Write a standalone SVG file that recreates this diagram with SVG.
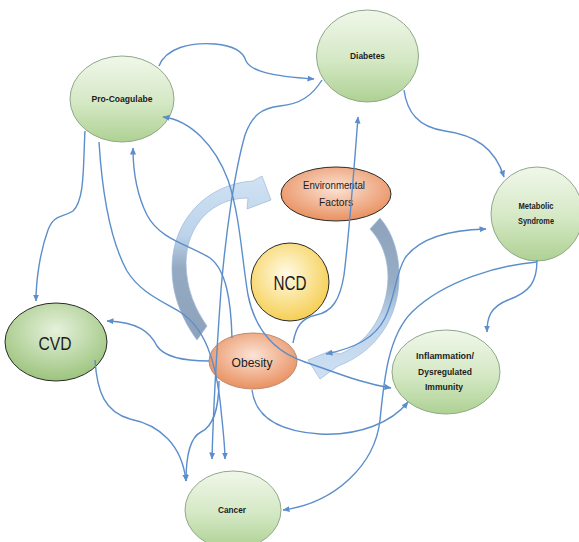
<svg xmlns="http://www.w3.org/2000/svg" width="579" height="542" viewBox="0 0 579 542">
<defs>
<style>
.green{stroke:#8fa88a;stroke-width:1}
.lbl{font-family:"Liberation Sans Narrow","Liberation Sans",Arial,sans-serif;font-weight:bold;fill:#1c1c1c;text-anchor:middle}
.big{font-family:"Liberation Sans Narrow","Liberation Sans",Arial,sans-serif;fill:#1c1c1c;text-anchor:middle}
.con{fill:none;stroke:#5b8ecb;stroke-width:1.4}
</style>
<linearGradient id="gG" x1="0" y1="0" x2="0" y2="1">
<stop offset="0" stop-color="#f1f7ea"/><stop offset="0.55" stop-color="#d4e8c4"/><stop offset="1" stop-color="#aed193"/>
</linearGradient>
<radialGradient id="gCVD" cx="0.5" cy="0.35" r="0.65">
<stop offset="0" stop-color="#e6f1dc"/><stop offset="1" stop-color="#9cc47d"/>
</radialGradient>
<radialGradient id="gO" cx="0.5" cy="0.4" r="0.6">
<stop offset="0" stop-color="#fbe3d6"/><stop offset="1" stop-color="#e9905f"/>
</radialGradient>
<radialGradient id="gY" cx="0.45" cy="0.4" r="0.6">
<stop offset="0" stop-color="#fffbe6"/><stop offset="1" stop-color="#f6cf55"/>
</radialGradient>
<linearGradient id="gA" gradientUnits="userSpaceOnUse" x1="0" y1="180" x2="0" y2="340">
<stop offset="0" stop-color="#cfe1f3"/><stop offset="0.35" stop-color="#bcd3ea"/><stop offset="0.55" stop-color="#94aac2"/><stop offset="1" stop-color="#8ea3bb"/>
</linearGradient>
<linearGradient id="gB" gradientUnits="userSpaceOnUse" x1="0" y1="218" x2="0" y2="380">
<stop offset="0" stop-color="#8ea3bb"/><stop offset="0.4" stop-color="#97adc5"/><stop offset="0.62" stop-color="#bcd3ea"/><stop offset="1" stop-color="#cfe1f3"/>
</linearGradient>
<marker id="ah" markerUnits="userSpaceOnUse" markerWidth="8" markerHeight="8" refX="6.5" refY="3" orient="auto-start-reverse">
<path d="M0,0 L7,3 L0,6 Z" fill="#5b8ecb"/>
</marker>
</defs>
<rect width="579" height="542" fill="#ffffff"/>

<g id="big-arrows">
<path id="arrow-left" d="M197,340 C184,322 172,298 172,268 C172,222 205,184 253,181 L262,176 L271,200 L247,209 L248,198 C212,198 187,225 186,262 C186,290 196,310 207,326 Z" fill="url(#gA)" stroke="#9db8d8" stroke-width="0.7"/>
<path id="arrow-right" d="M380,218 C393,233 400,255 399,280 C398,318 376,352 338,366 L320,379 L308,360 L330,351 L340,354 C370,342 387,312 388,278 C388,258 382,242 370,229 Z" fill="url(#gB)" stroke="#9db8d8" stroke-width="0.7"/>
</g>

<g id="node-procoagulabe">
<ellipse cx="122" cy="99" rx="52" ry="43" fill="url(#gG)" class="green"/>
<text class="lbl" x="122" y="101.5" font-size="9.5" textLength="61" lengthAdjust="spacingAndGlyphs">Pro-Coagulabe</text>
</g>
<g id="node-diabetes">
<ellipse cx="367.5" cy="56" rx="51" ry="46" fill="url(#gG)" class="green"/>
<text class="lbl" x="367.5" y="58.5" font-size="9.5" textLength="35" lengthAdjust="spacingAndGlyphs">Diabetes</text>
</g>
<g id="node-metabolic">
<ellipse cx="537" cy="214" rx="46" ry="47" fill="url(#gG)" class="green"/>
<text class="lbl" x="536" y="209" font-size="9.5" textLength="35" lengthAdjust="spacingAndGlyphs">Metabolic</text>
<text class="lbl" x="536" y="224" font-size="9.5" textLength="36" lengthAdjust="spacingAndGlyphs">Syndrome</text>
</g>
<g id="node-cvd">
<ellipse cx="56" cy="342" rx="51" ry="39" fill="url(#gCVD)" stroke="#2a2a2a" stroke-width="1"/>
<text class="big" x="55" y="350" font-size="19" textLength="33" lengthAdjust="spacingAndGlyphs">CVD</text>
</g>
<g id="node-environmental">
<ellipse cx="336" cy="194" rx="55" ry="27" fill="url(#gO)" stroke="#2a2a2a" stroke-width="1"/>
<text class="big" x="334" y="189" font-size="10.5" textLength="62" lengthAdjust="spacingAndGlyphs">Environmental</text>
<text class="big" x="336" y="206" font-size="10.5" textLength="34" lengthAdjust="spacingAndGlyphs">Factors</text>
</g>
<g id="node-ncd">
<ellipse cx="290" cy="282" rx="39" ry="39" fill="url(#gY)" stroke="#2a2a2a" stroke-width="1"/>
<text class="big" x="290" y="290" font-size="20" textLength="33" lengthAdjust="spacingAndGlyphs">NCD</text>
</g>
<g id="node-obesity">
<ellipse cx="253" cy="361" rx="44" ry="28" fill="url(#gO)" stroke="#b98a72" stroke-width="1"/>
<text class="big" x="252" y="367" font-size="13" textLength="41" lengthAdjust="spacingAndGlyphs">Obesity</text>
</g>
<g id="node-inflammation">
<ellipse cx="446" cy="372" rx="54" ry="42" fill="url(#gG)" class="green"/>
<text class="lbl" x="445" y="359" font-size="9.5" textLength="58" lengthAdjust="spacingAndGlyphs">Inflammation/</text>
<text class="lbl" x="445" y="374.5" font-size="9.5" textLength="54" lengthAdjust="spacingAndGlyphs">Dysregulated</text>
<text class="lbl" x="444" y="390" font-size="9.5" textLength="38" lengthAdjust="spacingAndGlyphs">Immunity</text>
</g>
<g id="node-cancer">
<ellipse cx="233" cy="510" rx="48" ry="39" fill="url(#gG)" class="green"/>
<text class="lbl" x="232" y="512.5" font-size="9.5" textLength="28" lengthAdjust="spacingAndGlyphs">Cancer</text>
</g>

<g id="connectors">
<path class="con" marker-end="url(#ah)" d="M159,66 C166,48 190,42 215,44 C238,46 244,54 246,61 C251,71 270,76 314,79"/>
<path class="con" marker-end="url(#ah)" d="M322,80 C312,96 300,104 280,106 C262,108 252,115 245,135 C235,170 226,230 221,290 C216,360 213,420 212,459"/>
<path class="con" marker-end="url(#ah)" d="M404,90 C407,112 418,127 445,131 C475,135 495,148 504,177"/>
<path class="con" marker-end="url(#ah)" d="M293,343 C296,326 302,318 316,315 C332,312 340,300 344,275 C349,235 354,170 358,117"/>
<path class="con" marker-end="url(#ah)" d="M537,260 C537,282 530,292 508,300 C490,307 487,318 487,332"/>
<path class="con" marker-end="url(#ah)" d="M537,262 C500,265 445,280 412,312 C388,336 384,380 380,420 C375,465 335,503 283,510"/>
<path class="con" marker-start="url(#ah)" marker-end="url(#ah)" d="M326,354 C355,348 375,338 385,318 C395,298 395,275 405,258 C418,240 445,230 486,229"/>
<path class="con" marker-end="url(#ah)" d="M209,361 C185,361 165,358 157,346 C150,332 138,322 107,321"/>
<path class="con" marker-end="url(#ah)" d="M95,360 C97,392 105,412 130,419 C160,425 182,445 186,481"/>
<path class="con" marker-end="url(#ah)" d="M252,390 C255,415 275,431 320,434 C360,436 392,422 408,402"/>
<path class="con" marker-start="url(#ah)" marker-end="url(#ah)" d="M163,117 C190,120 215,145 228,180 C240,215 242,260 248,295 C255,330 275,352 305,362 C335,372 360,383 391,388"/>
<path class="con" marker-end="url(#ah)" d="M232,338 C231,300 226,270 210,258 C190,245 160,240 147,215 C137,195 133,172 133,148"/>
<path class="con" marker-end="url(#ah)" d="M85,131 C83,165 85,200 73,211 C62,218 54,214 48,230 C40,252 36,280 36,301"/>
<path class="con" marker-end="url(#ah)" d="M99,142 C102,190 110,240 127,271 C140,292 160,300 180,312 C205,328 215,360 220,400 C223,430 225,445 225,459"/>
<path class="con" marker-end="url(#ah)" d="M219,381 C219,410 212,427 201,432 C189,438 186,458 186,481"/>
</g>
</svg>
